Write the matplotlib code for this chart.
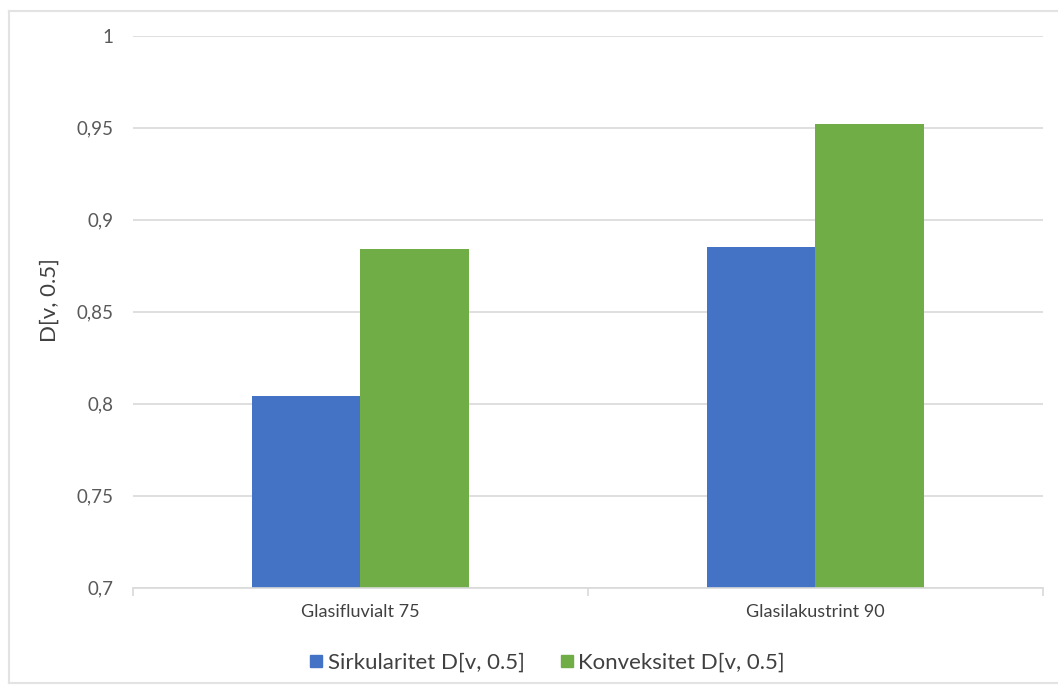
import matplotlib
matplotlib.use("Agg")
import matplotlib.pyplot as plt
import numpy as np
from matplotlib.lines import Line2D
from matplotlib.ticker import FixedLocator, FuncFormatter

plt.rcParams['font.family'] = ['Lato', 'DejaVu Sans']

categories = ["Glasifluvialt 75", "Glasilakustrint 90"]
series_names = ["Sirkularitet D[v, 0.5]", "Konveksitet D[v, 0.5]"]
sirkularitet = [0.804, 0.885]
konveksitet = [0.884, 0.952]
y_ticks = [0.7, 0.75, 0.8, 0.85, 0.9, 0.95, 1.0]

BLUE = "#4472C4"
GREEN = "#70AD47"
GRID = "#D9D9D9"
TEXT = "#595959"

fig = plt.figure(figsize=(10.58, 6.93), dpi=100)
ax = fig.add_axes([0.1257, 0.152, 0.86, 0.7965])

x = np.arange(len(categories))
w = 0.238
ax.bar(x - w / 2, sirkularitet, width=w, color=BLUE, label=series_names[0], zorder=3)
ax.bar(x + w / 2, konveksitet, width=w, color=GREEN, label=series_names[1], zorder=3)

ax.set_xlim(-0.5, len(categories) - 0.5)
ax.set_ylim(0.7, 1.0)
ax.yaxis.set_major_locator(FixedLocator(y_ticks))
ax.yaxis.set_major_formatter(FuncFormatter(lambda v, p: f"{v:g}".replace(".", ",")))
ax.grid(axis="y", color=GRID, linewidth=1.2, zorder=0)
for s in ["top", "right", "left"]:
    ax.spines[s].set_visible(False)
ax.spines["bottom"].set_color(GRID)
ax.spines["bottom"].set_linewidth(1.2)
ax.spines["bottom"].set_zorder(4)

ax.tick_params(axis="y", length=0, pad=14, labelsize=13.5, labelcolor=TEXT)
ax.set_xticks(x)
ax.set_xticklabels(categories)
ax.tick_params(axis="x", length=0, pad=12, labelsize=13, labelcolor="#404040")
# category boundary ticks
ax.set_xticks(np.arange(-0.5, len(categories), 1.0), minor=True)
ax.tick_params(axis="x", which="minor", length=6, color=GRID, width=1.2)

ax.set_ylabel("D[v, 0.5]", fontsize=16, color="#404040")
ax.yaxis.set_label_coords(-0.081, 0.521)

handles = [Line2D([], [], marker="s", linestyle="none", markersize=8.5, color=c) for c in (BLUE, GREEN)]
fig.legend(handles, series_names, loc="center", bbox_to_anchor=(0.516, 0.0433),
           ncol=2, frameon=False, fontsize=16, handletextpad=0.1, columnspacing=1.5,
           labelcolor="#404040", handlelength=0.8)

# outer chart border
frame_kw = dict(color="#E3E3E3", linewidth=1.5, transform=fig.transFigure)
fig.add_artist(Line2D([9 / 1058, 9 / 1058], [1 - 11 / 693, 1 - 683 / 693], **frame_kw))
fig.add_artist(Line2D([9 / 1058, 1.0], [1 - 11 / 693, 1 - 11 / 693], **frame_kw))
fig.add_artist(Line2D([9 / 1058, 1.0], [1 - 683 / 693, 1 - 683 / 693], **frame_kw))

fig.savefig("out.png", dpi=100, facecolor="white")
